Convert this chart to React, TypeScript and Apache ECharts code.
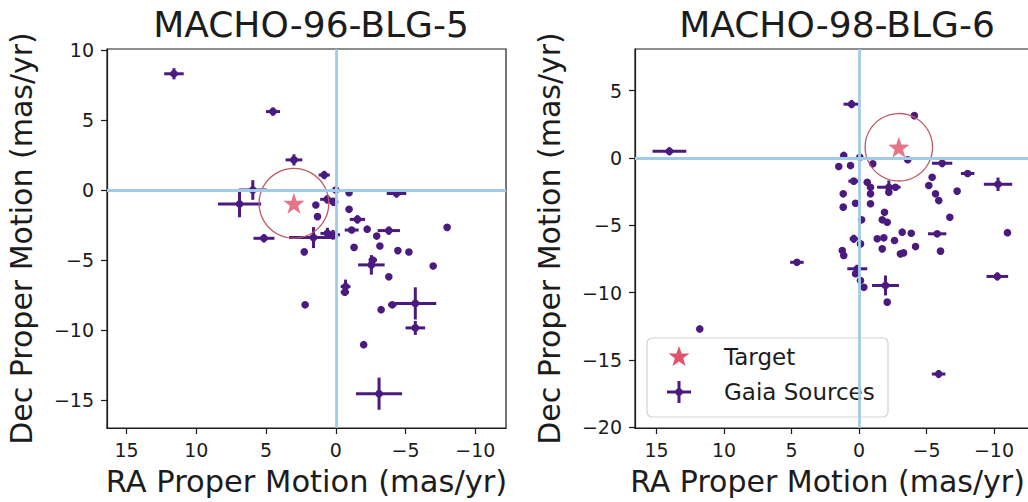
import React, { useEffect, useRef } from "react";
import * as echarts from "echarts";

// ---- Data ----
const titles = ["MACHO-96-BLG-5", "MACHO-98-BLG-6"];
const xTicks = [15, 10, 5, 0, -5, -10];
const yTicksLeft = [10, 5, 0, -5, -10, -15];
const yTicksRight = [5, 0, -5, -10, -15, -20];

// target proper motion [ra, dec, circleRadius]
const targetLeft = [[3.0, -0.95, 2.5]];
const targetRight = [[-2.95, 0.8, 2.5]];

// gaia sources [ra, dec, raErr, decErr]
const gaiaLeft = [
  [11.6, 8.3, 0.7, 0.4],
  [4.5, 5.6, 0.5, 0.3],
  [3.0, 2.15, 0.6, 0.4],
  [0.83, 1.07, 0.4, 0.3],
  [0.0, 0.0, 0.15, 0.15],
  [-0.95, -0.19, 0, 0],
  [-4.35, -0.25, 0.7, 0.3],
  [5.95, 0.0, 1.0, 0.7],
  [6.9, -1.0, 1.55, 0.95],
  [0.62, -0.67, 0.5, 0.3],
  [0.17, -0.85, 0.35, 0.3],
  [1.43, -1.07, 0, 0],
  [1.31, -1.9, 0, 0],
  [-0.95, -1.38, 0, 0],
  [-1.55, -2.1, 0.55, 0.3],
  [-2.25, -2.8, 0, 0],
  [-1.14, -2.86, 0.5, 0.2],
  [-2.93, -3.29, 0, 0],
  [-3.8, -2.9, 0.8, 0.3],
  [-7.98, -2.67, 0, 0],
  [5.15, -3.45, 0.75, 0.3],
  [1.6, -3.4, 1.75, 0.75],
  [0.6, -3.1, 0.5, 0.4],
  [0.2, -3.2, 0.5, 0.35],
  [2.26, -4.42, 0, 0],
  [-1.31, -4.1, 0, 0],
  [-3.16, -4.0, 0, 0],
  [-4.45, -4.33, 0, 0],
  [-5.24, -4.43, 0, 0],
  [-2.55, -5.35, 0.95, 0.7],
  [-2.65, -5.0, 0.3, 0.2],
  [-6.98, -5.43, 0, 0],
  [-3.8, -6.2, 0, 0],
  [-0.7, -6.9, 0.35, 0.5],
  [-0.65, -7.3, 0.3, 0.2],
  [2.2, -8.2, 0, 0],
  [-5.7, -8.1, 1.5, 1.15],
  [-4.05, -8.2, 0.3, 0.15],
  [-3.25, -8.55, 0, 0],
  [-5.7, -9.85, 0.7, 0.5],
  [-2.0, -11.05, 0, 0],
  [-3.1, -14.55, 1.65, 1.15],
];

const gaiaRight = [
  [0.55, 4.0, 0.6, 0.3],
  [14.05, 0.5, 1.25, 0.3],
  [-4.1, 3.15, 0, 0],
  [-3.61, -0.13, 0, 0],
  [-0.06, 0.06, 0.15, 0.15],
  [1.13, 0.19, 0, 0],
  [1.5, -0.63, 0, 0],
  [0.63, -0.56, 0, 0],
  [-1.02, -0.43, 0, 0],
  [-6.16, -0.39, 0.75, 0.3],
  [-8.05, -1.15, 0.5, 0.2],
  [-10.3, -1.95, 1.05, 0.5],
  [-5.42, -1.43, 0, 0],
  [-5.17, -2.04, 0, 0],
  [-5.67, -2.66, 0, 0],
  [-5.91, -3.16, 0, 0],
  [-7.27, -2.46, 0, 0],
  [-6.73, -4.4, 0, 0],
  [-11.0, -5.55, 0, 0],
  [-5.79, -5.63, 0.68, 0.15],
  [0.39, -1.72, 0.4, 0.15],
  [-0.61, -1.8, 0, 0],
  [-0.85, -2.17, 0.2, 0.2],
  [-2.21, -2.17, 0.87, 0.5],
  [-2.7, -2.17, 0, 0],
  [-0.85, -2.66, 0, 0],
  [-2.21, -2.54, 0, 0],
  [1.17, -2.66, 0, 0],
  [1.17, -3.65, 0, 0],
  [0.26, -3.36, 0, 0],
  [-0.85, -3.4, 0, 0],
  [-0.19, -4.59, 0, 0],
  [-1.89, -4.03, 0, 0],
  [-1.72, -4.59, 0, 0],
  [-2.09, -4.77, 0, 0],
  [0.39, -6.0, 0.3, 0.3],
  [-0.11, -6.38, 0, 0],
  [-1.35, -6.0, 0, 0],
  [-1.84, -5.93, 0, 0],
  [-2.63, -6.13, 0, 0],
  [-3.2, -5.51, 0, 0],
  [-3.87, -5.59, 0, 0],
  [-4.19, -6.58, 0, 0],
  [-1.72, -6.75, 0, 0],
  [-3.07, -7.12, 0, 0],
  [-3.3, -7.05, 0, 0],
  [-6.04, -6.92, 0, 0],
  [1.24, -6.87, 0, 0],
  [1.13, -7.24, 0, 0],
  [4.6, -7.75, 0.5, 0.2],
  [0.13, -8.23, 0.74, 0.3],
  [0.26, -8.6, 0, 0],
  [-0.11, -9.1, 0, 0],
  [-0.36, -9.6, 0, 0],
  [-1.96, -9.47, 1.0, 0.74],
  [-2.09, -10.71, 0, 0],
  [-10.25, -8.8, 0.8, 0.3],
  [11.8, -12.7, 0, 0],
  [-5.9, -16.05, 0.5, 0.3],
];

// ---- Styles ----
const PURPLE = "#4b1a7f";
const STAR = "#e0526a";
const RING = "#bf5a66";
const ZERO = "#a2cbe8";
const TEXT = "#1c1c1c";
const FONT = "DejaVu Sans";
const STAR_PATH =
  "path://M0,-10 L2.35,-3.24 L9.51,-3.09 L3.8,1.24 L5.88,8.09 L0,4 L-5.88,8.09 L-3.8,1.24 L-9.51,-3.09 L-2.35,-3.24 Z";

const fmt = (v: number) => (v < 0 ? "\u2212" + Math.abs(v) : String(v));

function starPoints(cx: number, cy: number, R: number, r: number) {
  const pts: number[][] = [];
  for (let i = 0; i < 10; i++) {
    const a = -Math.PI / 2 + (i * Math.PI) / 5;
    const rad = i % 2 === 0 ? R : r;
    pts.push([cx + rad * Math.cos(a), cy + rad * Math.sin(a)]);
  }
  return pts;
}

export default function App() {
  const ref = useRef<HTMLDivElement>(null);
  useEffect(() => {
    if (!ref.current) return;
    const chart = echarts.init(ref.current, undefined, { renderer: "svg" });

    const mkX = (gi: number, min: number, max: number, nameSize: number, namePad: number[]) => ({
      type: "value",
      gridIndex: gi,
      inverse: true,
      min,
      max,
      name: "RA Proper Motion (mas/yr)",
      nameLocation: "middle",
      nameGap: 38,
      nameTextStyle: { fontSize: nameSize, color: TEXT, fontFamily: FONT, padding: namePad },
      splitLine: { show: false },
      axisLine: { show: true, onZero: false, lineStyle: { color: TEXT, width: 1.2 } },
      axisTick: { show: true, length: 6, customValues: xTicks, lineStyle: { color: TEXT, width: 1.2 } },
      axisLabel: {
        customValues: xTicks,
        formatter: fmt,
        fontSize: 19,
        color: TEXT,
        fontFamily: FONT,
        margin: 12,
      },
    });
    const mkY = (gi: number, min: number, max: number, ticks: number[], gap: number) => ({
      type: "value",
      gridIndex: gi,
      min,
      max,
      name: "Dec Proper Motion (mas/yr)",
      nameLocation: "middle",
      nameGap: gap,
      nameTextStyle: { fontSize: 30, color: TEXT, fontFamily: FONT },
      splitLine: { show: false },
      axisLine: { show: true, onZero: false, lineStyle: { color: TEXT, width: 1.2 } },
      axisTick: { show: true, length: 6, customValues: ticks, lineStyle: { color: TEXT, width: 1.2 } },
      axisLabel: {
        customValues: ticks,
        formatter: fmt,
        fontSize: 19,
        color: TEXT,
        fontFamily: FONT,
        margin: 13,
      },
    });

    const errRender = (params: any, api: any) => {
      const x = api.value(0);
      const y = api.value(1);
      const ex = api.value(2);
      const ey = api.value(3);
      const c = api.coord([x, y]);
      const children: any[] = [];
      if (ex > 0) {
        const a = api.coord([x + ex, y]);
        const b = api.coord([x - ex, y]);
        children.push({
          type: "line",
          shape: { x1: a[0], y1: a[1], x2: b[0], y2: b[1] },
          style: { stroke: PURPLE, lineWidth: 3 },
        });
      }
      if (ey > 0) {
        const a = api.coord([x, y + ey]);
        const b = api.coord([x, y - ey]);
        children.push({
          type: "line",
          shape: { x1: a[0], y1: a[1], x2: b[0], y2: b[1] },
          style: { stroke: PURPLE, lineWidth: 3 },
        });
      }
      children.push({
        type: "circle",
        shape: { cx: c[0], cy: c[1], r: 3.8 },
        style: { fill: PURPLE },
      });
      return { type: "group", children };
    };

    const ringRender = (params: any, api: any) => {
      const c = api.coord([api.value(0), api.value(1)]);
      const r = api.size([api.value(2), 0])[0];
      return {
        type: "circle",
        shape: { cx: c[0], cy: c[1], r },
        style: { fill: "none", stroke: RING, lineWidth: 1.3 },
      };
    };

    const zeroSeries = (gi: number) => ({
      type: "line",
      xAxisIndex: gi,
      yAxisIndex: gi,
      data: [],
      z: 1,
      silent: true,
      markLine: {
        silent: true,
        symbol: "none",
        animation: false,
        label: { show: false },
        lineStyle: { color: ZERO, width: 2.8, type: "solid" },
        data: [{ xAxis: 0 }, { yAxis: 0 }],
      },
    });

    const panelSeries = (gi: number, gaia: number[][], target: number[][]) => [
      zeroSeries(gi),
      {
        type: "custom",
        name: "Gaia Sources",
        xAxisIndex: gi,
        yAxisIndex: gi,
        data: gaia,
        renderItem: errRender,
        clip: true,
        z: 2,
      },
      {
        type: "custom",
        xAxisIndex: gi,
        yAxisIndex: gi,
        data: target,
        renderItem: ringRender,
        clip: true,
        z: 3,
      },
      {
        type: "scatter",
        name: "Target",
        xAxisIndex: gi,
        yAxisIndex: gi,
        data: target.map((t) => [t[0], t[1]]),
        symbol: STAR_PATH,
        symbolSize: 21,
        itemStyle: { color: STAR },
        z: 4,
      },
    ];

    const titleStyle = { fontSize: 36, fontWeight: "normal", color: TEXT, fontFamily: FONT };

    chart.setOption({
      animation: false,
      backgroundColor: "#ffffff",
      title: [
        { text: titles[0], left: 306, top: 1, textAlign: "center", textStyle: titleStyle },
        { text: titles[1], left: 832, top: 1, textAlign: "center", textStyle: titleStyle },
      ],
      grid: [
        {
          left: 107, top: 49, width: 399, height: 379,
          show: true, borderColor: TEXT, borderWidth: 1.2, backgroundColor: "transparent",
          containLabel: false, outerBoundsMode: "none",
        },
        {
          left: 635, top: 49, width: 395, height: 379,
          show: true, borderColor: TEXT, borderWidth: 1.2, backgroundColor: "transparent",
          containLabel: false, outerBoundsMode: "none",
        },
      ],
      xAxis: [mkX(0, -12.2, 16.4, 30.5, [0, 0, 0, 0]), mkX(1, -12.67, 16.6, 30, [0, 10, 0, 0])],
      yAxis: [mkY(0, -17.0, 10.07, yTicksLeft, 71), mkY(1, -20.06, 8.1, yTicksRight, 71)],
      series: [...panelSeries(0, gaiaLeft, targetLeft), ...panelSeries(1, gaiaRight, targetRight)],
      graphic: [
        {
          type: "group",
          z: 100,
          children: [
            {
              type: "rect",
              shape: { x: 647, y: 338, width: 241, height: 79, r: 5 },
              style: { fill: "rgba(255,255,255,0.85)", stroke: "#d3d3d3", lineWidth: 1.2 },
            },
            {
              type: "polygon",
              shape: { points: starPoints(679, 357, 11, 4.4) },
              style: { fill: STAR },
            },
            {
              type: "line",
              shape: { x1: 667, y1: 392, x2: 691, y2: 392 },
              style: { stroke: PURPLE, lineWidth: 3 },
            },
            {
              type: "line",
              shape: { x1: 679, y1: 381, x2: 679, y2: 403 },
              style: { stroke: PURPLE, lineWidth: 3 },
            },
            {
              type: "circle",
              shape: { cx: 679, cy: 392, r: 3.8 },
              style: { fill: PURPLE },
            },
            {
              type: "text",
              x: 724,
              y: 357,
              style: { text: "Target", fontSize: 23, fill: TEXT, fontFamily: FONT, textVerticalAlign: "middle" },
            },
            {
              type: "text",
              x: 724,
              y: 392,
              style: { text: "Gaia Sources", fontSize: 23, fill: TEXT, fontFamily: FONT, textVerticalAlign: "middle" },
            },
          ],
        },
      ],
    });
    return () => chart.dispose();
  }, []);
  return (
    <div
      ref={ref}
      style={{ position: "fixed", left: 0, top: 0, width: 1028, height: 502, background: "#fff" }}
    />
  );
}
